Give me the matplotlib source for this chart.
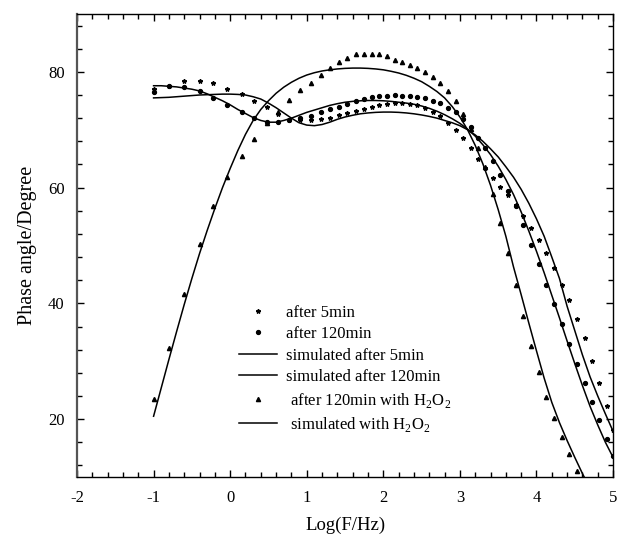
"""Phase angle Bode plot: measured points and simulated fits."""

import matplotlib
matplotlib.use("Agg")
import matplotlib.pyplot as plt
from matplotlib.ticker import MultipleLocator

plt.rcParams["font.family"] = ["Liberation Serif", "DejaVu Serif"]
plt.rcParams["mathtext.fontset"] = "custom"
plt.rcParams["mathtext.rm"] = "Liberation Serif"
plt.rcParams["axes.unicode_minus"] = False

# measured log frequency grid (shared by the three data sets)
log_f = [-1.0, -0.8, -0.6, -0.4, -0.22, -0.04, 0.15, 0.31, 0.48, 0.63, 0.77,
         0.91, 1.05, 1.18, 1.31, 1.42, 1.53, 1.64, 1.75, 1.85, 1.95, 2.05,
         2.15, 2.25, 2.35, 2.44, 2.55, 2.65, 2.74, 2.85, 2.95, 3.04, 3.14,
         3.24, 3.33, 3.43, 3.53, 3.63, 3.73, 3.83, 3.93, 4.03, 4.13, 4.23,
         4.33, 4.43, 4.53, 4.63, 4.73, 4.82, 4.92, 5.0]

phase_5min = [77.0, 77.6, 78.4, 78.4, 78.0, 77.1, 76.2, 75.0, 73.9, 72.8, 71.7,
              71.6, 71.7, 71.8, 72.1, 72.6, 72.9, 73.2, 73.6, 73.9, 74.3, 74.5,
              74.6, 74.6, 74.4, 74.3, 73.8, 73.1, 72.3, 71.1, 70.0, 68.5, 66.9,
              65.0, 63.4, 61.7, 60.1, 58.7, 57.0, 55.1, 53.1, 51.0, 48.7, 46.1,
              43.2, 40.6, 37.3, 34.0, 30.0, 26.3, 22.3, 18.1]

phase_120min = [76.5, 77.5, 77.3, 76.7, 75.4, 74.2, 73.0, 72.1, 71.3, 71.4, 71.6,
                72.0, 72.4, 73.0, 73.5, 74.0, 74.5, 75.0, 75.3, 75.7, 75.8, 75.9,
                76.0, 75.9, 75.8, 75.7, 75.4, 75.0, 74.6, 73.8, 73.0, 71.9, 70.4,
                68.5, 66.8, 64.6, 62.1, 59.5, 56.8, 53.5, 50.0, 46.8, 43.2, 39.9,
                36.4, 32.9, 29.5, 26.3, 22.9, 19.8, 16.6, 13.6]

phase_h2o2 = [23.4, 32.3, 41.6, 50.2, 56.8, 61.8, 65.5, 68.4, 71.1, 73.0, 75.1,
              76.8, 78.1, 79.4, 80.7, 81.7, 82.4, 83.0, 83.1, 83.1, 83.1, 82.7,
              82.1, 81.7, 81.2, 80.7, 80.0, 79.1, 78.1, 76.7, 75.0, 72.8, 70.2,
              66.8, 63.6, 58.9, 53.9, 48.7, 43.2, 37.8, 32.7, 28.1, 23.8, 20.2,
              16.9, 14.0, 11.1]

# simulated curves, read every 0.1 decade
sim_x = [round(-1.0 + 0.1 * i, 1) for i in range(61)]

sim_5min = [75.5, 75.55, 75.6, 75.7, 75.8, 75.9, 76.0, 76.05, 76.1, 76.15,
            76.15, 76.1, 76.0, 75.7, 75.3, 74.6, 73.8, 72.9, 72.0, 71.2,
            70.8, 70.7, 70.9, 71.3, 71.8, 72.2, 72.5, 72.75, 72.9, 73.0,
            73.05, 73.05, 73.0, 72.9, 72.75, 72.55, 72.3, 72.0, 71.6, 71.2,
            70.7, 70.0, 69.1, 68.0, 66.7, 65.3, 63.6, 61.8, 59.7, 57.3,
            54.6, 51.6, 48.0, 44.3, 39.5, 35.3, 31.1, 27.3, 24.0, 20.9, 17.9]

sim_120min = [77.6, 77.6, 77.5, 77.4, 77.2, 77.0, 76.7, 76.2, 75.6, 75.0,
              74.3, 73.5, 72.8, 72.1, 71.6, 71.3, 71.3, 71.6, 72.0, 72.5,
              73.0, 73.4, 73.8, 74.2, 74.5, 74.75, 74.9, 75.0, 75.05, 75.05,
              75.0, 74.9, 74.75, 74.6, 74.4, 74.1, 73.7, 73.2, 72.6, 71.9,
              71.1, 70.1, 68.9, 67.4, 65.7, 63.7, 61.4, 58.8, 55.8, 52.5,
              49.0, 45.3, 41.4, 37.5, 33.5, 29.6, 25.8, 22.2, 19.0, 16.0, 13.4]

sim_h2o2 = [20.5, 25.4, 30.3, 35.1, 39.8, 44.3, 48.6, 52.6, 56.4, 60.0,
            63.3, 66.4, 69.2, 71.6, 73.5, 75.0, 76.3, 77.35, 78.2, 78.9,
            79.45, 79.85, 80.15, 80.35, 80.5, 80.6, 80.65, 80.65, 80.6, 80.5,
            80.35, 80.1, 79.8, 79.4, 78.9, 78.3, 77.5, 76.6, 75.5, 74.0,
            72.2, 70.0, 67.3, 64.1, 60.4, 56.2, 51.6, 46.3, 41.5, 36.6,
            31.8, 27.1, 22.9, 19.4, 16.3, 13.4, 10.6, 8.0]


fig = plt.figure(figsize=(6.18, 5.37), dpi=100)
ax = fig.add_axes([0.1246, 0.1117, 0.8674, 0.8623])

ax.plot(log_f, phase_5min, linestyle="none", marker="*", ms=3.2, color="black",
        label="after 5min")
ax.plot(log_f, phase_120min, linestyle="none", marker="o", ms=2.8, color="black",
        label="after 120min")
ax.plot(sim_x[:len(sim_5min)], sim_5min, color="black", lw=1.1,
        label="simulated after 5min")
ax.plot(sim_x[:len(sim_120min)], sim_120min, color="black", lw=1.1,
        label="simulated after 120min")
ax.plot(log_f[:len(phase_h2o2)], phase_h2o2, linestyle="none", marker="^", ms=3.0,
        color="black", label=r" after 120min with H$_2$O$_2$")
ax.plot(sim_x[:len(sim_h2o2)], sim_h2o2, color="black", lw=1.1,
        label=r" simulated with H$_2$O$_2$")

ax.set_xlim(-2, 5)
ax.set_ylim(10, 90)
ax.xaxis.set_major_locator(MultipleLocator(1))
ax.xaxis.set_minor_locator(MultipleLocator(0.2))
ax.yaxis.set_major_locator(MultipleLocator(20))
ax.yaxis.set_minor_locator(MultipleLocator(4))
ax.tick_params(which="both", direction="in", top=True, right=True, labelsize=12)
ax.tick_params(which="major", length=5, width=1)
ax.tick_params(which="minor", length=3.5, width=1)
ax.tick_params(axis="x", pad=9)
ax.tick_params(axis="y", pad=9)
for side in ax.spines.values():
    side.set_linewidth(1.0)
# the left frame line looks a bit heavier and greyer in the original
ax.spines["left"].set_linewidth(1.6)
ax.spines["left"].set_color("#555555")

ax.set_xlabel("Log(F/Hz)", fontsize=13.5, labelpad=8)
ax.set_ylabel("Phase angle/Degree", fontsize=14.5, labelpad=8)

ax.legend(loc="upper left", bbox_to_anchor=(0.302, 0.372), frameon=False,
          fontsize=12, handlelength=2.3, handletextpad=0.55, labelspacing=0.33,
          borderpad=0, borderaxespad=0, markerscale=1.0)

fig.savefig("out.png", dpi=100)
